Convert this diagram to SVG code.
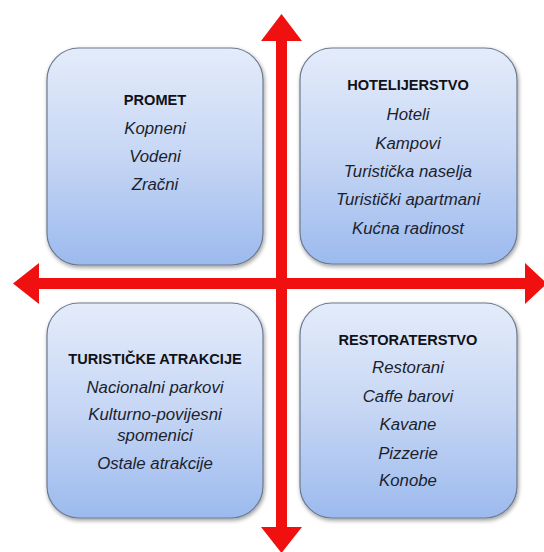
<svg xmlns="http://www.w3.org/2000/svg" width="544" height="552" viewBox="0 0 544 552">
<defs>
<linearGradient id="g" x1="0" y1="0" x2="0" y2="1">
<stop offset="0" stop-color="#e4ecfa"/>
<stop offset="0.5" stop-color="#c6d6f4"/>
<stop offset="1" stop-color="#9cbaee"/>
</linearGradient>
<filter id="sh" x="-10%" y="-10%" width="125%" height="125%">
<feGaussianBlur in="SourceAlpha" stdDeviation="2"/>
<feOffset dx="1" dy="2"/>
<feComponentTransfer><feFuncA type="linear" slope="0.4"/></feComponentTransfer>
<feMerge><feMergeNode/><feMergeNode in="SourceGraphic"/></feMerge>
</filter>
</defs>
<style>
.box{fill:url(#g);stroke:#6c7a90;stroke-width:1.2;filter:url(#sh)}
.t{font-family:"Liberation Sans",Arial,sans-serif;font-weight:bold;font-size:14.6px;fill:#111118;text-anchor:middle}
.i{font-family:"Liberation Sans",Arial,sans-serif;font-style:italic;font-size:16.8px;fill:#1c1f2e;text-anchor:middle}
.arr{fill:#f01010}
</style>
<rect width="544" height="552" fill="#ffffff"/>
<g id="promet">
<rect class="box" x="47" y="48" width="216" height="217" rx="32"/>
<text class="t" x="155" y="105">PROMET</text>
<text class="i" x="155" y="134">Kopneni</text>
<text class="i" x="155" y="162">Vodeni</text>
<text class="i" x="155" y="190">Zračni</text>
</g>
<g id="hotelijerstvo">
<rect class="box" x="300" y="48" width="217" height="216" rx="32"/>
<text class="t" x="408" y="90">HOTELIJERSTVO</text>
<text class="i" x="408" y="120">Hoteli</text>
<text class="i" x="408" y="149">Kampovi</text>
<text class="i" x="408" y="177">Turistička naselja</text>
<text class="i" x="408" y="205">Turistički apartmani</text>
<text class="i" x="408" y="234">Kućna radinost</text>
</g>
<g id="atrakcije">
<rect class="box" x="47" y="303" width="216" height="215" rx="32"/>
<text class="t" x="155" y="364">TURISTIČKE ATRAKCIJE</text>
<text class="i" x="155" y="393">Nacionalni parkovi</text>
<text class="i" x="155" y="420">Kulturno-povijesni</text>
<text class="i" x="155" y="441">spomenici</text>
<text class="i" x="155" y="469">Ostale atrakcije</text>
</g>
<g id="restoraterstvo">
<rect class="box" x="300" y="303" width="217" height="215" rx="32"/>
<text class="t" x="408" y="345">RESTORATERSTVO</text>
<text class="i" x="408" y="373">Restorani</text>
<text class="i" x="408" y="402">Caffe barovi</text>
<text class="i" x="408" y="430">Kavane</text>
<text class="i" x="408" y="459">Pizzerie</text>
<text class="i" x="408" y="486">Konobe</text>
</g>
<g id="connectors">
<polygon class="arr" points="281.5,14 302,41 287,41 287,527 302,527 281.5,553 261,527 276,527 276,41 261,41"/>
<polygon class="arr" points="13,283.5 39,263 39,278 525,278 525,263 547,283.5 525,304 525,289 39,289 39,304"/>
</g>
</svg>
